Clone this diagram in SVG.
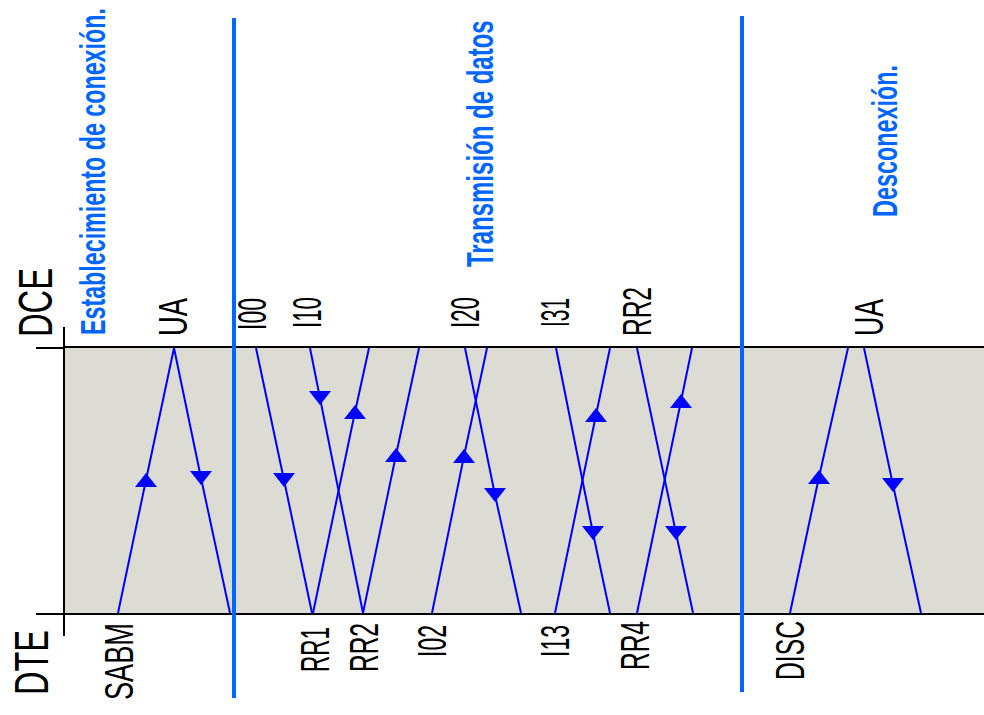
<svg xmlns="http://www.w3.org/2000/svg" width="984" height="715" viewBox="0 0 984 715">
<style>
  .lbl { font-family: "Liberation Sans", Arial, sans-serif; font-size: 40px; fill: #000; }
  .axis-lbl { font-family: "Liberation Sans", Arial, sans-serif; font-size: 48px; fill: #000; }
  .title { font-family: "Liberation Sans", Arial, sans-serif; font-size: 36px; font-weight: bold; fill: #0066ff; }
  .sep { stroke: #0066ff; stroke-width: 4; }
  .axis { stroke: #000; stroke-width: 2; fill: none; }
  .msg { stroke: #0000ff; stroke-width: 2; fill: none; }
  .msg.up { marker-mid: url(#arrUp); }
  .msg.down { marker-mid: url(#arrDown); }
</style>
<defs>
  <marker id="arrDown" viewBox="-12 -8 24 16" refX="0" refY="0" markerWidth="24" markerHeight="16" markerUnits="userSpaceOnUse" orient="0">
    <path d="M-11,-7 L11,-7 L0,7 Z" fill="#0000ff"/>
  </marker>
  <marker id="arrUp" viewBox="-12 -8 24 16" refX="0" refY="0" markerWidth="24" markerHeight="16" markerUnits="userSpaceOnUse" orient="0">
    <path d="M-11,7 L11,7 L0,-7 Z" fill="#0000ff"/>
  </marker>
</defs>
<rect x="0" y="0" width="984" height="715" fill="#ffffff"/>

<g id="timeline-area">
  <rect x="64" y="347" width="920" height="267" fill="#dcdcd5"/>
  <line class="axis" x1="64" y1="347" x2="984" y2="347"/>
  <line class="axis" x1="64" y1="614" x2="984" y2="614"/>
  <line class="axis" x1="64" y1="327" x2="64" y2="636"/>
  <line class="axis" x1="36" y1="348" x2="64" y2="348"/>
  <line class="axis" x1="36" y1="614" x2="64" y2="614"/>
</g>

<g id="station-DCE">
  <text class="axis-lbl" transform="translate(52,337) rotate(-90)" textLength="69" lengthAdjust="spacingAndGlyphs">DCE</text>
</g>
<g id="station-DTE">
  <text class="axis-lbl" transform="translate(48,695) rotate(-90)" textLength="65" lengthAdjust="spacingAndGlyphs">DTE</text>
</g>

<g id="phase-separators">
  <line class="sep" x1="234" y1="18" x2="234" y2="698"/>
  <line class="sep" x1="742" y1="16" x2="742" y2="692"/>
</g>

<g id="phase-titles">
  <text class="title" transform="translate(105,335) rotate(-90) scale(0.646,1)" textLength="506" lengthAdjust="spacingAndGlyphs">Establecimiento de conexión.</text>
  <text class="title" transform="translate(493,267) rotate(-90) scale(0.665,1)" textLength="371" lengthAdjust="spacingAndGlyphs">Transmisión de datos</text>
  <text class="title" transform="translate(897,217) rotate(-90) scale(0.65,1)" textLength="234" lengthAdjust="spacingAndGlyphs">Desconexión.</text>
</g>

<g id="connectors">
  <!-- connection setup -->
  <polyline id="c-SABM" class="msg up" points="118,613 146,480 174,348"/>
  <polyline id="c-UA1" class="msg down" points="174,348 201,478 230,613"/>
  <!-- data transfer -->
  <polyline id="c-I00" class="msg down" points="256,348 284,480 312,613"/>
  <polyline id="c-I10" class="msg down" points="310,348 320,398 363,613"/>
  <polyline id="c-RR1" class="msg up" points="313,613 355,412 369,348"/>
  <polyline id="c-RR2b" class="msg up" points="363,613 396,455 419,348"/>
  <polyline id="c-I02" class="msg up" points="432,613 464,456 487,348"/>
  <polyline id="c-I20" class="msg down" points="465,348 495,495 521,613"/>
  <polyline id="c-I31" class="msg down" points="556,348 593,533 610,613"/>
  <polyline id="c-I13" class="msg up" points="555,613 596,415 610,348"/>
  <polyline id="c-RR2t" class="msg down" points="637,348 676,533 693,613"/>
  <polyline id="c-RR4" class="msg up" points="637,613 681,401 692,348"/>
  <!-- disconnection -->
  <polyline id="c-DISC" class="msg up" points="790,613 819,477 848,348"/>
  <polyline id="c-UA2" class="msg down" points="864,348 893,485 921,613"/>
</g>

<g id="labels-top">
  <text class="lbl" transform="translate(187,336) rotate(-90)" textLength="38" lengthAdjust="spacingAndGlyphs">UA</text>
  <text class="lbl" transform="translate(266,330) rotate(-90)" textLength="32" lengthAdjust="spacingAndGlyphs">I00</text>
  <text class="lbl" transform="translate(321,328) rotate(-90)" textLength="31" lengthAdjust="spacingAndGlyphs">I10</text>
  <text class="lbl" transform="translate(479,328) rotate(-90)" textLength="31" lengthAdjust="spacingAndGlyphs">I20</text>
  <text class="lbl" transform="translate(569,327) rotate(-90)" textLength="29" lengthAdjust="spacingAndGlyphs">I31</text>
  <text class="lbl" transform="translate(651,336) rotate(-90)" textLength="49" lengthAdjust="spacingAndGlyphs">RR2</text>
  <text class="lbl" transform="translate(883,336) rotate(-90)" textLength="37" lengthAdjust="spacingAndGlyphs">UA</text>
</g>

<g id="labels-bottom">
  <text class="lbl" transform="translate(133,700) rotate(-90)" textLength="77" lengthAdjust="spacingAndGlyphs">SABM</text>
  <text class="lbl" transform="translate(329,672) rotate(-90)" textLength="45" lengthAdjust="spacingAndGlyphs">RR1</text>
  <text class="lbl" transform="translate(378,672) rotate(-90)" textLength="49" lengthAdjust="spacingAndGlyphs">RR2</text>
  <text class="lbl" transform="translate(446,657) rotate(-90)" textLength="32" lengthAdjust="spacingAndGlyphs">I02</text>
  <text class="lbl" transform="translate(569,657) rotate(-90)" textLength="32" lengthAdjust="spacingAndGlyphs">I13</text>
  <text class="lbl" transform="translate(649,670) rotate(-90)" textLength="49" lengthAdjust="spacingAndGlyphs">RR4</text>
  <text class="lbl" transform="translate(804,680) rotate(-90)" textLength="59" lengthAdjust="spacingAndGlyphs">DISC</text>
</g>
</svg>
